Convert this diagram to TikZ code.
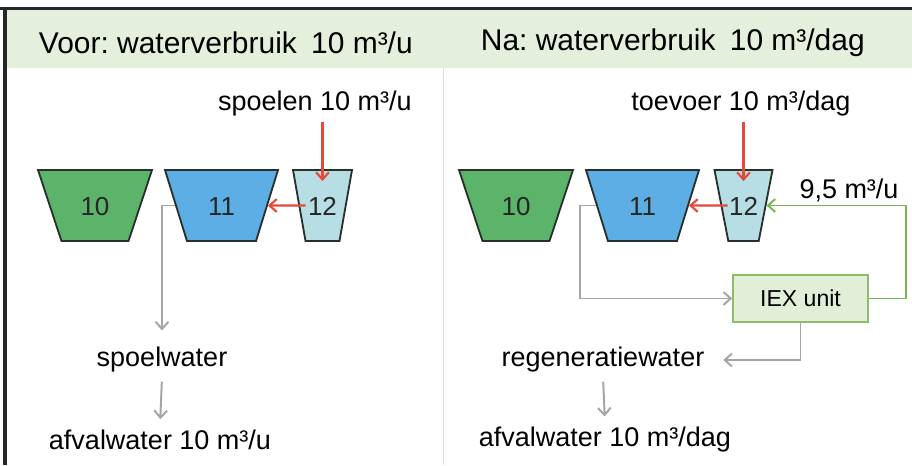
\documentclass[tikz,border=0pt]{standalone}
\usepackage{fontspec}
\setmainfont{Liberation Sans}
\usepackage{xcolor}
\usetikzlibrary{shapes.geometric,arrows.meta}
\frenchspacing

\definecolor{HeadGreen}{RGB}{228,239,220}
\definecolor{TankGreen}{RGB}{92,180,106}
\definecolor{TankBlue}{RGB}{92,174,228}
\definecolor{TankPale}{RGB}{182,222,228}
\definecolor{TankLine}{RGB}{40,48,44}
\definecolor{FlowRed}{RGB}{230,72,56}
\definecolor{FlowGray}{RGB}{165,165,165}
\definecolor{FlowGreen}{RGB}{122,182,84}
\definecolor{UnitFill}{RGB}{226,239,216}
\definecolor{UnitLine}{RGB}{140,188,108}

\begin{document}
\begin{tikzpicture}[
        tank/.style = {trapezium,
            trapezium stretches body=true,
            shape border rotate=180,
            draw=TankLine,
            line width=1.3pt,
            inner xsep=0pt,
            inner ysep=0.6375cm,
            text height=0.5cm,
            text depth=0cm,
            text=black!85,
            font=\fontsize{18.5}{20}\selectfont},
        label/.style = {font=\fontsize{19.2}{22}\selectfont},
        head/.style = {anchor=west, font=\fontsize{21.3}{24}\selectfont},
        redflow/.style = {draw=FlowRed, line width=1.5pt,
            -{Straight Barb[length=0.18cm,width=0.32cm]}},
        grayflow/.style = {draw=FlowGray, line width=1.4pt,
            -{Straight Barb[length=0.18cm,width=0.32cm]}},
        greenflow/.style = {draw=FlowGreen, line width=1.4pt,
            -{Straight Barb[length=0.18cm,width=0.32cm]}}]

    % canvas and frame
    \useasboundingbox (0,0) rectangle (22.8,-11.625);
    \fill[white] (0,0) rectangle (22.8,-11.625);
    \fill[HeadGreen] (0.175,-0.25) rectangle (22.8,-1.7);
    \draw[gray!25, line width=1pt] (11.08,-1.7) -- (11.08,-11.625);
    \draw[black!85, line width=2.2pt] (0,-0.2125) -- (22.8,-0.2125);
    \draw[black!85, line width=2.2pt] (0.125,-0.2125) -- (0.125,-11.625);

    % headers
    \node[head] (headL) at (0.85,-1.075) {Voor: waterverbruik\hspace{0.2em} 10 m³/u};
    \node[head] (headR) at (11.9,-1.075) {Na: waterverbruik\hspace{0.2em} 10 m³/dag};

    % before
    \node[tank, fill=TankGreen, minimum width=2.85cm,
        trapezium angle=71.7] (tankA) at (2.375,-5.1375) {10};
    \node[tank, fill=TankBlue, minimum width=2.825cm,
        trapezium angle=72.8] (tankB) at (5.5375,-5.1375) {11};
    \node[tank, fill=TankPale, minimum width=1.475cm,
        trapezium angle=80] (tankC) at (8.0625,-5.1375) {12};

    \node[label] (spoelen) at (7.875,-2.6) {spoelen 10 m³/u};
    \node[label] (spoelwater) at (4.05,-9.0) {spoelwater};
    \node[label] (afvalA) at (4.0,-11.0) {afvalwater 10 m³/u};

    \draw[redflow] (spoelen.south -| tankC.north) -- ([yshift=-0.3cm]tankC.north);
    \draw[redflow, shorten <=-0.18cm] (tankC.west) -- (tankB.east);
    \draw[grayflow, shorten >=0.3cm] (tankB.west) -| (spoelwater.north);
    \draw[grayflow, shorten <=0.1cm, shorten >=0.15cm] (spoelwater.south) -- (afvalA.north);

    % after
    \node[tank, fill=TankGreen, minimum width=2.85cm,
        trapezium angle=71.7] (tankD) at (12.9,-5.1375) {10};
    \node[tank, fill=TankBlue, minimum width=2.825cm,
        trapezium angle=72.8] (tankE) at (16.0625,-5.1375) {11};
    \node[tank, fill=TankPale, minimum width=1.45cm,
        trapezium angle=79] (tankF) at (18.5875,-5.1375) {12};

    \node[label] (toevoer) at (18.525,-2.6) {toevoer 10 m³/dag};
    \node[draw=UnitLine, fill=UnitFill, line width=1.2pt,
        minimum width=3.375cm, minimum height=1.175cm,
        font=\fontsize{16.4}{18}\selectfont] (iex) at (20.0125,-7.4625) {IEX unit};
    \node[label] (flowback) at (21.225,-4.75) {9,5 m³/u};
    \node[label] (regen) at (15.075,-9.0) {regeneratiewater};
    \node[label] (afvalB) at (15.125,-11.0) {afvalwater 10 m³/dag};

    \draw[redflow] (toevoer.south -| tankF.north) -- ([yshift=-0.3cm]tankF.north);
    \draw[redflow, shorten <=-0.18cm] (tankF.west) -- (tankE.east);
    \draw[grayflow] (tankE.west) -- ++(-0.4,0) |- (iex.west);
    \draw[grayflow, shorten >=0.35cm] (iex.south) |- (regen.east);
    \draw[grayflow, shorten <=0.1cm, shorten >=0.15cm] (regen.south) -- (afvalB.north);
    \draw[greenflow] (iex.east) -- ++(0.925,0) |- (tankF.east);

\end{tikzpicture}
\end{document}
